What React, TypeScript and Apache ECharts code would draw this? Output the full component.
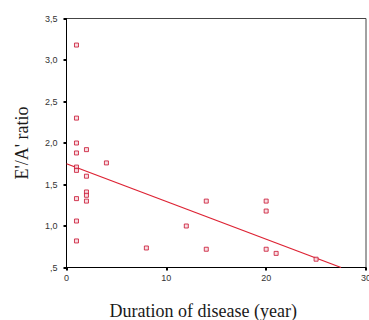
import React, { useEffect, useRef } from "react";
import * as echarts from "echarts";

const durationYears = [1, 1, 1, 1, 2, 4, 1, 1, 2, 2, 2, 2, 1, 1, 1, 8, 12, 14, 14, 20, 20, 20, 21, 25];
const eaRatio = [3.18, 2.3, 2.0, 1.88, 1.92, 1.76, 1.71, 1.67, 1.6, 1.41, 1.37, 1.3, 1.33, 1.06, 0.82, 0.735, 1.0, 1.3, 0.72, 1.3, 1.18, 0.72, 0.67, 0.6];
const fitLineX = [0, 27.5];
const fitLineY = [1.75, 0.5];
const xTicks = [0, 10, 20, 30];
const yTicks = [0.5, 1.0, 1.5, 2.0, 2.5, 3.0, 3.5];

export default function App() {
  const ref = useRef<HTMLDivElement>(null);
  useEffect(() => {
    if (!ref.current) return;
    const chart = echarts.init(ref.current, undefined, { renderer: "svg" });
    const fmtY = (v: number) => (v === 0.5 ? ",5" : v.toFixed(1).replace(".", ","));
    chart.setOption({
      animation: false,
      backgroundColor: "#ffffff",
      grid: {
        left: 66.5,
        top: 18.5,
        width: 299.5,
        height: 249,
        show: true,
        borderColor: "#444",
        borderWidth: 1,
        containLabel: false,
        outerBoundsMode: "none",
      },
      xAxis: {
        type: "value",
        min: xTicks[0],
        max: xTicks[xTicks.length - 1],
        interval: 10,
        name: "Duration of disease (year)",
        nameLocation: "middle",
        nameGap: 34,
        nameTextStyle: {
          fontFamily: "Liberation Serif",
          fontSize: 18,
          color: "#1a1a1a",
          padding: [0, 26, 0, 0],
        },
        axisLine: { show: true, lineStyle: { color: "#000", width: 1 } },
        axisTick: { show: true, length: 3, lineStyle: { color: "#000", width: 2 } },
        axisLabel: { fontFamily: "Liberation Sans", fontSize: 9, color: "#333", margin: 6 },
        splitLine: { show: false },
      },
      yAxis: {
        type: "value",
        min: yTicks[0],
        max: yTicks[yTicks.length - 1],
        interval: 0.5,
        name: "E'/A' ratio",
        nameLocation: "middle",
        nameGap: 36,
        nameTextStyle: { fontFamily: "Liberation Serif", fontSize: 18, color: "#1a1a1a" },
        axisLine: { show: true, lineStyle: { color: "#000", width: 1 } },
        axisTick: { show: true, length: 3, lineStyle: { color: "#000", width: 2 } },
        axisLabel: { fontFamily: "Liberation Sans", fontSize: 9, color: "#333", margin: 9, formatter: fmtY },
        splitLine: { show: false },
      },
      series: [
        {
          type: "line",
          data: fitLineX.map((x, i) => [x, fitLineY[i]]),
          showSymbol: false,
          lineStyle: { color: "#dd2233", width: 1.3 },
          z: 2,
        },
        {
          type: "scatter",
          data: durationYears.map((x, i) => [x, eaRatio[i]]),
          symbol: "rect",
          symbolSize: 4,
          itemStyle: { color: "#f6d6dc", borderColor: "#c8102e", borderWidth: 1 },
          z: 3,
        },
      ],
    });
    return () => chart.dispose();
  }, []);
  return (
    <div
      ref={ref}
      style={{ position: "fixed", left: 0, top: 0, width: 369, height: 320 }}
    />
  );
}
